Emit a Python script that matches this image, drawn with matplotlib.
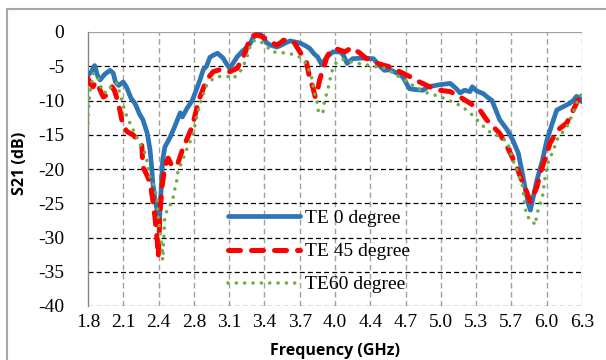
import matplotlib
matplotlib.use('Agg')
import matplotlib.pyplot as plt
from matplotlib.patches import Rectangle
import numpy as np

# S21 traces (GHz, dB)
freq_te0 = [1.80, 1.83, 1.86, 1.89, 1.91, 1.95, 2.00, 2.03, 2.05, 2.08, 2.12, 2.15, 2.19, 2.23,
            2.27, 2.30, 2.34, 2.365, 2.38, 2.39, 2.41, 2.43, 2.44, 2.45, 2.456, 2.47, 2.48, 2.50,
            2.55, 2.59, 2.64, 2.66, 2.68, 2.70, 2.75, 2.79, 2.82, 2.85, 2.88, 2.91, 2.94, 2.98,
            3.03, 3.06, 3.09, 3.12, 3.16, 3.20, 3.25, 3.28, 3.30, 3.35, 3.37, 3.39, 3.43, 3.46,
            3.52, 3.55, 3.60, 3.64, 3.70, 3.73, 3.78, 3.82, 3.86, 3.89, 3.93, 3.96, 3.98, 4.03,
            4.10, 4.13, 4.16, 4.21, 4.30, 4.40, 4.46, 4.50, 4.55, 4.60, 4.64, 4.67, 4.70, 4.73,
            4.78, 4.85, 4.90, 5.00, 5.10, 5.15, 5.19, 5.23, 5.28, 5.30, 5.34, 5.40, 5.43, 5.48,
            5.55, 5.62, 5.67, 5.72, 5.75, 5.78, 5.81, 5.83, 5.85, 5.89, 5.94, 5.98, 6.03, 6.07,
            6.13, 6.19, 6.22, 6.25, 6.28, 6.30]
s21_te0 = [-6.3, -5.8, -4.9, -6.5, -7.0, -6.2, -5.6, -6.0, -7.3, -7.8, -7.3, -8.0, -9.6, -10.5,
           -12.0, -12.8, -14.8, -17.2, -19.7, -22.0, -24.5, -26.0, -27.4, -28.0, -26.0, -22.0, -18.7, -16.8,
           -15.3, -13.8, -11.8, -12.4, -11.8, -11.2, -10.0, -8.3, -7.0, -5.5, -5.0, -3.7, -3.4, -3.1,
           -3.8, -4.6, -5.3, -4.6, -3.6, -2.9, -2.2, -1.6, -0.9, -0.2, -0.3, -0.7, -1.6, -1.9,
           -2.2, -2.0, -1.6, -1.3, -1.5, -1.6, -2.0, -2.4, -3.2, -3.6, -4.8, -4.0, -3.6, -2.9,
           -2.9, -3.5, -4.6, -3.9, -3.8, -3.9, -5.0, -5.6, -5.5, -5.9, -6.2, -6.6, -7.5, -8.3,
           -8.4, -8.5, -8.0, -7.7, -7.5, -8.2, -8.9, -8.5, -8.7, -8.0, -8.6, -9.0, -9.4, -10.0,
           -12.8, -14.3, -15.8, -17.7, -20.1, -22.6, -25.0, -26.0, -24.5, -21.6, -18.7, -15.8, -13.3, -11.4,
           -10.9, -10.4, -10.0, -9.4, -9.7, -10.2]

freq_te45 = [1.80, 1.82, 1.845, 1.87, 1.89, 1.91, 1.94, 1.96, 1.99, 2.02, 2.04, 2.06, 2.09, 2.12,
             2.16, 2.21, 2.255, 2.29, 2.30, 2.34, 2.365, 2.39, 2.41, 2.43, 2.44, 2.456, 2.474, 2.50,
             2.53, 2.57, 2.62, 2.66, 2.71, 2.75, 2.78, 2.82,
             2.88, 2.94, 3.00, 3.05, 3.09, 3.16, 3.20, 3.23, 3.28, 3.33, 3.39, 3.48, 3.52, 3.56,
             3.58, 3.64, 3.68, 3.73, 3.79, 3.82, 3.85, 3.87, 3.89, 3.91, 3.94, 3.98, 4.02, 4.07,
             4.14, 4.20, 4.27, 4.33, 4.44, 4.55, 4.64, 4.73, 4.82, 4.94, 5.00, 5.10, 5.19, 5.28,
             5.37, 5.43, 5.55, 5.62, 5.69, 5.75, 5.80, 5.83, 5.85, 5.89, 5.92, 5.98, 6.01, 6.08,
             6.16, 6.19, 6.25, 6.28, 6.30]
s21_te45 = [-6.8, -7.5, -8.0, -7.3, -7.5, -8.5, -9.5, -9.3, -8.8, -8.0, -8.5, -9.5, -11.4, -13.8,
            -14.6, -15.0, -15.8, -16.5, -19.7, -21.0, -22.0, -24.5, -27.0, -30.4, -32.8, -26.4, -22.6, -19.7,
            -18.4, -19.7, -19.1, -17.2, -15.3, -13.8, -11.8, -9.5,
            -7.0, -5.8, -5.5, -5.8, -5.8, -5.3, -4.0, -3.1, -0.7, -0.4, -0.7, -1.6, -1.9, -1.5,
            -1.2, -1.2, -1.6, -2.9, -4.4, -6.8, -8.2, -9.5, -8.5, -7.0, -5.5, -3.5, -2.6, -2.5,
            -2.9, -2.3, -3.0, -3.8, -4.6, -5.1, -5.8, -6.5, -7.3, -8.2, -8.5, -8.7, -9.5, -10.4,
            -11.4, -12.8, -14.8, -16.8, -19.1, -21.6, -23.5, -24.8, -24.1, -22.6, -20.6, -17.7, -16.2, -14.3,
            -13.3, -12.4, -10.4, -9.5, -8.7]

freq_te60 = [1.80, 1.803, 1.81, 1.82, 1.84, 1.85, 1.88, 1.91, 1.93, 1.98, 2.02, 2.06, 2.11, 2.14,
             2.20, 2.27, 2.32, 2.34, 2.365, 2.39, 2.41, 2.43, 2.44, 2.456, 2.474, 2.48, 2.50, 2.53,
             2.565, 2.59, 2.61, 2.62, 2.656, 2.684, 2.73, 2.76, 2.79, 2.83, 2.88, 2.94, 3.00, 3.09,
             3.12, 3.18, 3.24, 3.28, 3.31, 3.35, 3.39, 3.48, 3.55, 3.62, 3.70, 3.76, 3.80, 3.84,
             3.86, 3.89, 3.90, 3.94, 3.95, 3.99, 4.02, 4.06, 4.12, 4.21, 4.30, 4.40, 4.51, 4.60,
             4.72, 4.85, 5.00, 5.12, 5.21, 5.30, 5.39, 5.46, 5.55, 5.62, 5.67, 5.72, 5.76, 5.78,
             5.80, 5.85, 5.87, 5.90, 5.94, 5.96, 5.99, 6.04, 6.08, 6.16, 6.22, 6.26, 6.30]
s21_te60 = [-13.3, -11.5, -10.0, -8.5, -7.0, -6.0, -6.3, -7.5, -8.8, -8.8, -7.7, -7.4, -10.0, -11.8,
            -13.9, -16.2, -17.7, -19.1, -21.2, -22.0, -23.0, -24.5, -27.0, -29.4, -31.4, -33.3, -27.0, -25.5,
            -25.0, -23.0, -21.6, -20.2, -19.0, -17.7, -16.0, -14.8, -12.4, -10.0, -7.8, -6.8, -6.5, -6.5,
            -6.8, -6.0, -4.1, -1.9, -1.3, -1.2, -1.6, -2.9, -3.0, -3.1, -3.4, -4.0, -5.0, -6.8,
            -8.8, -10.4, -11.8, -11.8, -10.5, -8.0, -5.8, -4.5, -4.0, -4.4, -4.7, -5.0, -5.3, -6.2,
            -7.4, -8.7, -9.4, -10.2, -10.9, -12.1, -13.6, -14.6, -15.3, -16.0, -18.7, -20.6, -22.6, -25.5,
            -27.0, -27.4, -28.2, -26.0, -24.1, -21.6, -19.1, -17.2, -15.5, -13.9, -11.8, -10.0, -8.9]

x_ticks = ['1.8', '2.1', '2.4', '2.8', '3.1', '3.4', '3.7', '4.0',
           '4.4', '4.7', '5.0', '5.3', '5.7', '6.0', '6.3']
y_ticks = [0, -5, -10, -15, -20, -25, -30, -35, -40]

plt.rcParams['axes.unicode_minus'] = False
serif = 'Liberation Serif'

fig = plt.figure(figsize=(6.06, 3.6), dpi=100)
# chart area border (only left and top edges show)
fig.patches.append(Rectangle((7 / 606, -0.05), 1.2, 1 - 9 / 360 + 0.05, transform=fig.transFigure,
                             fill=False, edgecolor='#a6a6a6', lw=1.5))
ax = fig.add_axes([88 / 606, 1 - 306 / 360, 494 / 606, 274 / 360])

ax.plot(freq_te0, s21_te0, color='#2E75B6', lw=3.4, solid_joinstyle='round',
        solid_capstyle='round', label='TE 0 degree', zorder=3)
ax.plot(freq_te45, s21_te45, color='#FF0000', lw=3.6, dashes=(2.4, 2.2),
        dash_capstyle='round', dash_joinstyle='round', label='TE 45 degree', zorder=4)
ax.plot(freq_te60, s21_te60, color='#70AD47', lw=2.6, dashes=(0.01, 2.3),
        dash_capstyle='round', label='TE60 degree', zorder=5)

xt = np.linspace(1.8, 6.3, len(x_ticks))
ax.set_xlim(1.8, 6.3)
ax.set_ylim(-40, 0)
ax.set_xticks(xt)
ax.set_xticklabels(x_ticks, fontfamily=serif, fontsize=14)
ax.set_yticks(y_ticks)
ax.set_yticklabels([str(v) for v in y_ticks], fontfamily=serif, fontsize=14)
ax.tick_params(axis='both', length=0)
ax.tick_params(axis='y', pad=17)
ax.tick_params(axis='x', pad=6)

# grid: grey dashed verticals, black dashed horizontals
for x in xt[1:]:
    ax.axvline(x, color='#a0a0a0', lw=1.0, ls=(0, (4, 2.5)), zorder=1)
for y in y_ticks:
    ax.axhline(y, color='black' if y != 0 else '#a0a0a0', lw=0.9,
               ls=(0, (4, 2.5)) if y != 0 else '-', zorder=1)

for side in ['top', 'right', 'bottom']:
    ax.spines[side].set_visible(False)
ax.spines['left'].set_color('#868686')
ax.spines['left'].set_linewidth(1.0)

ax.set_ylabel('S21 (dB)', fontfamily='Open Sans', fontweight='bold', fontsize=11.5)
ax.yaxis.set_label_coords(-0.121, 0.52)
ax.set_xlabel('Frequency (GHz)', fontfamily='Open Sans', fontweight='bold', fontsize=11.5)
ax.xaxis.set_label_coords(0.5, -0.135)

leg = ax.legend(loc='upper left', bbox_to_anchor=(0.283, 0.352), frameon=False,
                prop={'family': serif, 'size': 14}, handlelength=3.7, handletextpad=0.25,
                labelspacing=0.8, borderaxespad=0, borderpad=0)

fig.savefig('out.png', dpi=100)
